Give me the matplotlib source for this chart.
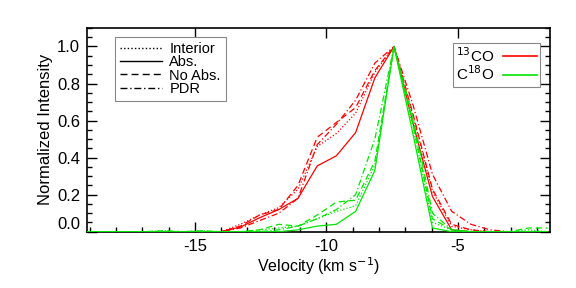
import matplotlib
matplotlib.use("Agg")
import matplotlib.pyplot as plt
from matplotlib.lines import Line2D
from matplotlib.ticker import MultipleLocator

plt.rcParams['font.family'] = ['Liberation Sans', 'DejaVu Sans']
plt.rcParams['axes.unicode_minus'] = False

# velocity channels (km/s)
velocity = [-19.11, -18.38, -17.65, -16.92, -16.19, -15.46, -14.73, -14.00,
            -13.27, -12.54, -11.81, -11.08, -10.35, -9.62, -8.89, -8.16,
            -7.43, -6.70, -5.97, -5.24, -4.51, -3.78, -3.05, -2.32, -1.59]

# 13CO normalized profiles
co13_interior = [0, 0, 0, 0, 0, 0, 0, 0.0,
                 0.04, 0.09, 0.13, 0.23, 0.46, 0.53, 0.64, 0.86,
                 1.0, 0.62, 0.22, 0.03, 0.01, 0, 0, 0, 0]
co13_abs = [0, 0, 0, 0, 0, 0, 0, 0.0,
            0.025, 0.075, 0.12, 0.18, 0.355, 0.41, 0.535, 0.83,
            1.0, 0.58, 0.19, 0.01, 0.0, 0, 0, 0, 0]
co13_noabs = [0, 0, 0, 0, 0, 0, 0, 0.0,
              0.03, 0.09, 0.12, 0.25, 0.51, 0.59, 0.67, 0.87,
              1.0, 0.63, 0.23, 0.04, 0.01, 0, 0, 0, 0]
co13_pdr = [0, 0, 0, 0, 0, 0, 0, 0.0,
            0.02, 0.06, 0.10, 0.18, 0.47, 0.58, 0.71, 0.91,
            1.0, 0.68, 0.31, 0.11, 0.04, 0.01, 0, 0, 0]

# C18O normalized profiles
c18o_interior = [0, 0, 0, 0, 0.005, 0, 0.005, 0.0,
                 0.0, 0.01, 0.02, 0.03, 0.07, 0.11, 0.14, 0.36,
                 1.0, 0.56, 0.05, 0.01, 0, 0, 0, 0.01, 0]
c18o_abs = [0, 0, 0, 0, 0, 0, 0, 0.0,
            0.0, 0.0, 0.0, 0.01, 0.03, 0.04, 0.11, 0.33,
            1.0, 0.52, 0.02, 0.0, 0, 0, 0, 0, 0]
c18o_noabs = [0, 0, 0, 0, 0.005, 0, 0.005, 0.0,
              0.0, 0.01, 0.04, 0.03, 0.09, 0.16, 0.17, 0.38,
              1.0, 0.58, 0.07, 0.01, 0, 0, 0, 0.02, 0.02]
c18o_pdr = [0, 0, 0, 0, 0, 0, 0, 0.0,
            0.0, 0.0, 0.01, 0.03, 0.07, 0.12, 0.20, 0.50,
            1.0, 0.61, 0.10, 0.01, 0, 0, 0, 0, 0]

styles = {
    "Interior": (0, (1, 1.6)),
    "Abs.": "-",
    "No Abs.": (0, (5, 3)),
    "PDR": (0, (5, 2, 1, 2)),
}

fig = plt.figure(figsize=(5.76, 2.88), dpi=100)
ax = fig.add_axes([0.151, 0.1955, 0.804, 0.7075])

red = "#ff0000"
green = "#00e600"
for prof, key in [(co13_interior, "Interior"), (co13_abs, "Abs."),
                  (co13_noabs, "No Abs."), (co13_pdr, "PDR")]:
    ax.plot(velocity, prof, color=red, lw=0.9, ls=styles[key], zorder=3)
for prof, key in [(c18o_interior, "Interior"), (c18o_abs, "Abs."),
                  (c18o_noabs, "No Abs."), (c18o_pdr, "PDR")]:
    ax.plot(velocity, prof, color=green, lw=0.9, ls=styles[key], zorder=3)

ax.set_xlim(-19.1, -1.5)
ax.set_ylim(0, 1.1)
ax.xaxis.set_major_locator(MultipleLocator(5))
ax.xaxis.set_minor_locator(MultipleLocator(1))
ax.yaxis.set_minor_locator(MultipleLocator(0.05))
ax.set_yticks([0.0, 0.2, 0.4, 0.6, 0.8, 1.0])
ax.set_yticklabels(["0.0", "0.2", "0.4", "0.6", "0.8", "1.0"])
ax.tick_params(which="major", direction="in", length=7, width=1,
               labelsize=12, top=True, right=True, pad=5)
ax.tick_params(which="minor", direction="in", length=3.5, width=1,
               top=False, right=True)
ax.get_yticklabels()[0].set_verticalalignment("bottom")
for s in ax.spines.values():
    s.set_linewidth(1.2)

ax.set_xlabel("Velocity (km s$^{-1}$)", fontsize=11.5, labelpad=1)
ax.set_ylabel("Normalized Intensity", fontsize=12, labelpad=3)

# linestyle legend
h1 = [Line2D([], [], color="black", lw=1, ls=styles[k]) for k in styles]
leg1 = ax.legend(h1, list(styles), loc="upper left",
                 bbox_to_anchor=(0.06, 0.956), fontsize=10.5, frameon=True,
                 fancybox=False, edgecolor="#888888", framealpha=1,
                 handlelength=2.9, handletextpad=0.5, labelspacing=-0.05,
                 borderpad=0.35, borderaxespad=0)
leg1.get_frame().set_linewidth(0.8)
ax.add_artist(leg1)

# species legend
h2 = [Line2D([], [], color=red, lw=1.2), Line2D([], [], color=green, lw=1.2)]
leg2 = ax.legend(h2, ["$^{13}$CO", "C$^{18}$O"], loc="upper right",
                 bbox_to_anchor=(0.978, 0.926), fontsize=11, frameon=True,
                 fancybox=False, edgecolor="#888888", framealpha=1,
                 markerfirst=False, handlelength=2.2, handletextpad=0.6,
                 labelspacing=0.0, borderpad=0.2, borderaxespad=0)
leg2.get_frame().set_linewidth(0.8)

fig.savefig("out.png", dpi=100)
